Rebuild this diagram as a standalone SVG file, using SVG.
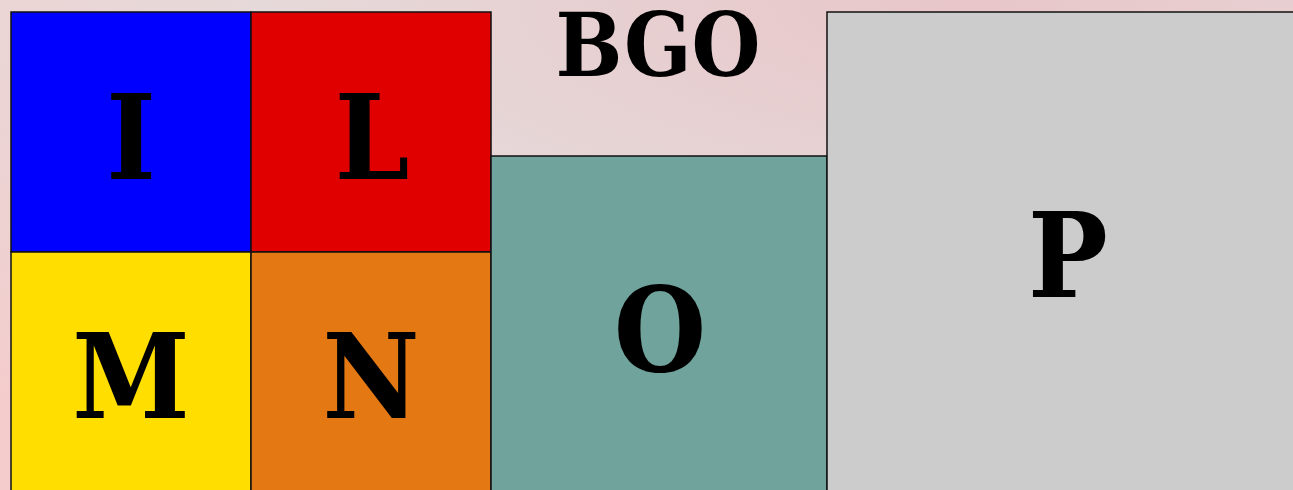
<svg xmlns="http://www.w3.org/2000/svg" width="1293" height="490" viewBox="0 0 1293 490">
  <defs>
    <radialGradient id="bg" cx="0.75" cy="0" r="1.1" gradientUnits="objectBoundingBox">
      <stop offset="0" stop-color="#e8c6c9"/>
      <stop offset="0.5" stop-color="#e6d9d9"/>
      <stop offset="1" stop-color="#f4cccc"/>
    </radialGradient>
    <style>
      .box { stroke: #111; stroke-width: 1.5; }
      .lbl { font-family: "DejaVu Serif Condensed", "DejaVu Serif", serif; font-stretch: condensed; font-weight: bold; fill: #000; text-anchor: middle; }
      .big { font-size: 118px; }
      .mid { font-size: 88px; }
    </style>
  </defs>
  <rect x="0" y="0" width="1293" height="490" fill="url(#bg)"/>
  <g id="node-I">
    <rect class="box" x="11" y="12" width="240" height="240" fill="#0000ff"/>
    <text class="lbl big" x="131" y="179">I</text>
  </g>
  <g id="node-L">
    <rect class="box" x="251" y="12" width="240" height="240" fill="#e00000"/>
    <text class="lbl big" x="372" y="179">L</text>
  </g>
  <g id="node-M">
    <rect class="box" x="11" y="252" width="240" height="250" fill="#ffde00"/>
    <text class="lbl big" x="131" y="418">M</text>
  </g>
  <g id="node-N">
    <rect class="box" x="251" y="252" width="240" height="250" fill="#e47813"/>
    <text class="lbl big" x="371" y="418">N</text>
  </g>
  <g id="node-BGO">
    <text class="lbl mid" x="658" y="76">BGO</text>
  </g>
  <g id="node-O">
    <rect class="box" x="491" y="156" width="336" height="350" fill="#6fa39c"/>
    <text class="lbl big" x="660" y="371">O</text>
  </g>
  <g id="node-P">
    <rect class="box" x="827" y="12" width="480" height="500" fill="#cccccc"/>
    <text class="lbl big" x="1068" y="297">P</text>
  </g>
  <g id="connectors"/>
</svg>
